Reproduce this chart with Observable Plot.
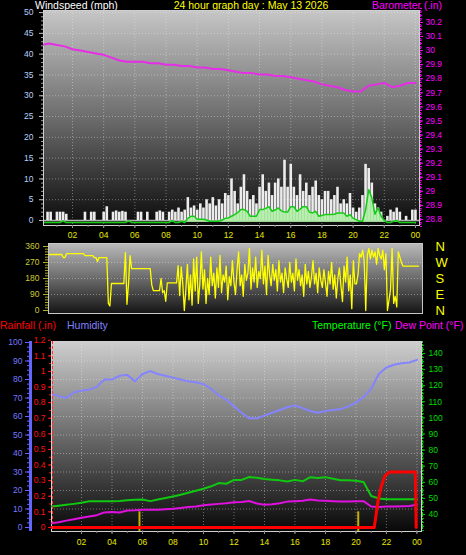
<!DOCTYPE html>
<html><head><meta charset="utf-8">
<script src="https://cdn.jsdelivr.net/npm/d3@7"></script>
<script src="https://cdn.jsdelivr.net/npm/@observablehq/plot@0.6"></script>
<style>
html,body{margin:0;padding:0;background:#000;}
#root{position:relative;width:466px;height:555px;overflow:hidden;background:#000;font-family:"Liberation Sans",Arial,sans-serif;}
.t{position:absolute;font-size:10.5px;white-space:nowrap;line-height:1;}
</style></head><body><div id="root">
<div class="t" style="left:35px;top:0px;color:#ffffff">Windspeed (mph)</div>
<div class="t" style="left:251px;top:0px;color:#ffff00;transform:translateX(-50%)">24 hour graph day : May 13 2026</div>
<div class="t" style="left:372px;top:0px;color:#ff00ff">Barometer (.in)</div>
<div class="t" style="left:0px;top:320px;color:#ff0000">Rainfall (.in)</div>
<div class="t" style="left:67px;top:320px;color:#8080ff">Humidity</div>
<div class="t" style="left:312px;top:320px;color:#00ff00">Temperature (°F)</div>
<div class="t" style="left:395px;top:320px;color:#ff00ff">Dew Point (°F)</div>
</div>
<script>
// ---------------- DATA ----------------
const hourTicks = [2,4,6,8,10,12,14,16,18,20,22,24];
const hourLabels = ["02","04","06","08","10","12","14","16","18","20","22","00"];

const windTicks = [0,5,10,15,20,25,30,35,40,45,50];
const baroTicks = [28.8,28.9,29,29.1,29.2,29.3,29.4,29.5,29.6,29.7,29.8,29.9,30,30.1,30.2];
const baroLabels = ["28.8","28.9","29","29.1","29.2","29.3","29.4","29.5","29.6","29.7","29.8","29.9","30","30.1","30.2"];
const dirTicks = [0,90,180,270,360];
const compass = ["N","E","S","W","N"];
const humTicks = [0,10,20,30,40,50,60,70,80,90,100];
const rainTicks = [0,0.1,0.2,0.3,0.4,0.5,0.6,0.7,0.8,0.9,1,1.1,1.2];
const rainLabels = ["0","0.1","0.2","0.3","0.4","0.5","0.6","0.7","0.8","0.9","1","1.1","1.2"];
const tempTicks = [40,50,60,70,80,90,100,110,120,130,140];

// barometer (inHg), every 0.5 h from 00:00
const baroStep = 0.5;
const barometer = [30.04,30.05,30.04,30.03,30.01,30.00,29.99,29.98,29.97,29.95,29.93,29.92,29.92,29.92,29.91,29.91,29.90,29.90,29.89,29.89,29.88,29.88,29.87,29.87,29.86,29.85,29.84,29.84,29.83,29.83,29.82,29.82,29.81,29.80,29.79,29.78,29.76,29.75,29.74,29.72,29.71,29.71,29.75,29.76,29.77,29.74,29.75,29.77,29.77];

// wind gust and average (mph), every 0.2 h
const windStep = 0.2;
const windGust = [0,0,2,2,0,2,2,2,1.5,0,
 0,0,0,0,2,0,2,2,0,0,
 2,3.3,0,2,2.3,2,2.2,2,0,0,
 0,2,2,0,2,0,0,2,2.3,2,
 0,2,2.5,2,3,2,2.5,5.5,3,3.5,
 2.5,4,3,5,4,5.5,3.5,5,4,6.5,
 6,10,7,4,8,11,7,5,6,4,
 8,11,7,9,6,9,10,8,14.5,8,
 13.5,8,6,11,7,9,6,8,9.5,6,
 5,7,7,5,6,8,4,5,4,6.5,
 3,2,3,6,13.5,12.5,9,4,3,2,
 0,1,2.5,2,3,2,0,1,0,2.5,
 2.5];
const windAvg = [0,0,0,0,0,0,0,0.4,0,0,
 0,0,0,0,0,0,0,0,0,0,
 0,0,0,0,0,0,0,0,0.4,0,
 0,0,0,0,0,0,0,0,0,0,
 0,0,0.5,0,0,0.3,0,1.0,1.5,1.5,
 0.8,0.8,0.8,0.6,0.3,0.3,0.3,0.3,0.6,1.0,
 1.1,1.5,1.9,2.4,3.1,3.1,2.7,1.5,1.5,1.5,
 3.1,3.1,3.4,3.8,2.7,3.0,3.5,2.8,2.5,2.5,
 3.8,3.8,2.7,3.2,3.8,3.8,2.5,2.3,2.7,1.5,
 1.7,1.9,1.9,1.9,2.0,2.3,2.3,2.3,1.5,1.9,
 1.0,0.7,0.3,0.3,3.0,7.9,6.0,2.0,3.5,1.5,
 0.5,0,0,0.3,0.5,0,0,0,0,0,
 0];

// wind direction (degrees), every 0.1 h
const dirStep = 0.1;
const windDir = [
 315,315,315,315,315,315,315,315,315,315,
 315,298,298,320,320,320,320,320,320,320,
 320,320,320,320,320,309,309,309,309,309,
 309,298,298,275,298,298,298,298,298,298,
 40,25,152,152,152,152,152,152,152,152,
 152,326,35,150,309,236,236,236,236,236,
 236,236,236,236,236,236,236,236,144,112,
 112,112,112,112,180,100,112,52,155,155,
 155,155,155,155,155,253,84,245,150,0,
 120,260,60,200,30,290,110,300,40,150,
 330,120,230,40,180,90,300,140,210,70,
 240,130,310,100,200,160,250,60,190,140,
 280,160,90,230,330,140,200,80,260,170,
 210,350,120,240,160,300,130,220,180,340,
 150,250,90,310,200,140,260,170,230,110,
 280,160,210,100,240,180,130,270,160,210,
 110,290,170,230,140,200,80,260,150,220,
 130,190,280,150,210,100,240,170,130,230,
 160,80,220,150,270,120,200,70,180,240,
 140,50,250,160,300,110,200,10,280,150,
 150,200,320,300,340,280,0,310,350,290,
 340,300,330,260,350,310,290,340,230,320,
 0,60,120,350,40,80,20,330,300,270,
 250,250,250,250,250,250,250,250,250,250,
 250];

// humidity (%), temperature and dew point (°F), every 0.5 h
const climStep = 0.5;
const humidity = [72.5,71,70,73,74,74.5,76,80,80,82,82.5,79,83,84.5,83,82,81,80,79,78.5,77.5,75,71.5,69,65.5,62,59,59,60.5,62,63.5,65,66,64.5,63,62,63,63.5,64,65.5,67.5,70.5,75,83,86.5,88,88.8,89.2,90.6];
const temperature = [45,45.5,46,46.6,47.3,48.2,48.3,48.3,48.2,48.4,48.8,49.2,49.3,48.3,49.3,50.2,51.2,52.3,53.5,54.8,56,57.5,59.5,59.1,61.5,61.5,63.3,62.8,62,61.6,61.2,60.5,61.5,60.6,63.2,62.6,63.2,62.2,61.3,61.3,61,60.2,51.5,50,49.5,49.5,49.5,49.5,49.5];
const dewPoint = [34.6,35.2,36.2,37,38,38.8,39.6,41.3,41.6,41.2,42.5,42.6,42.9,42.9,42.9,43.2,43.5,44,44.6,45,45.7,46.2,46.6,47,47.6,47.8,48.4,46.8,46,46.3,47,48,48.2,48.5,49.3,48.7,48.5,48.2,48,48.1,48.2,48.3,45,44.6,45,45,45.1,45.3,46];

// rainfall (in)
const rainHours = [0,21.2,21.45,21.65,21.9,22.2,23.9,23.95];
const rainInches = [0,0,0.17,0.26,0.33,0.355,0.355,0];

// short yellow event markers in the lower panel
const markerHours = [5.8,20.15];
const markerLevel = 0.1;

// ---------------- BUILD ----------------
const ser = (step, vals) => vals.map((v, i) => ({h: +(i * step).toFixed(3), v}));
const baroData = ser(baroStep, barometer);
const gustData = ser(windStep, windGust);
const avgData = ser(windStep, windAvg);
const dirData = ser(dirStep, windDir);
const humData = ser(climStep, humidity);
const tempData = ser(climStep, temperature);
const dewData = ser(climStep, dewPoint);
const rainData = rainHours.map((h, i) => ({h, v: rainInches[i]}));

const root = document.getElementById("root");
const FONT = "'Liberation Sans', Arial, sans-serif";
const W = 466;
const TICKFS = 8.5;
const noText = () => "";

function gradientDef(id, stops) {
  return () => {
    const ns = "http://www.w3.org/2000/svg";
    const defs = document.createElementNS(ns, "defs");
    const lg = document.createElementNS(ns, "linearGradient");
    lg.setAttribute("id", id);
    lg.setAttribute("x1", "0"); lg.setAttribute("y1", "0");
    lg.setAttribute("x2", "0"); lg.setAttribute("y2", "1");
    for (const [o, c] of stops) {
      const s = document.createElementNS(ns, "stop");
      s.setAttribute("offset", o); s.setAttribute("stop-color", c);
      lg.appendChild(s);
    }
    defs.appendChild(lg);
    return defs;
  };
}

function base(p, xDom, yDom, marks) {
  return Plot.plot({
    width: W, height: p.height,
    marginLeft: p.ml, marginRight: p.mr, marginTop: p.mt, marginBottom: p.mb,
    x: {domain: xDom, axis: null, label: null},
    y: {domain: yDom, axis: null, label: null},
    style: {background: "transparent", color: "#cccccc", fontFamily: FONT, fontSize: TICKFS + "px", overflow: "visible"},
    marks
  });
}
function place(svg, top) {
  svg.style.position = "absolute";
  svg.style.left = "0px";
  svg.style.top = top + "px";
  svg.style.maxWidth = "none";
  root.appendChild(svg);
}
const hourFmt = d => hourLabels[hourTicks.indexOf(d)];
const hourMinor = d3.range(1, 25, 1);
const gridStyle = {stroke: "#f0f0f0", strokeOpacity: 0.4, strokeDasharray: "1,2"};

// ---- Panel 1: wind speed + barometer ----
const p1 = {top: 0, height: 245, ml: 43, mr: 47, mt: 10, mb: 20};
const xDom1 = [0.14, 24.26];
const windDom = [-1.2, 50.5];
const baroDom = [28.757, 30.285];

place(base(p1, xDom1, windDom, [
  gradientDef("g1", [[0, "#c6c6c6"], [0.5, "#6c6c6c"], [1, "#0a0a0a"]]),
  Plot.frame({fill: "url(#g1)"}),
  Plot.gridY({ticks: windTicks, ...gridStyle}),
  Plot.gridX({ticks: hourTicks, ...gridStyle}),
  Plot.ruleY([0], {stroke: "#b4b4b4", strokeWidth: 1.5}),
  Plot.ruleX(gustData, {x: "h", y1: 0, y2: "v", stroke: "#ececec", strokeWidth: 2.6, clip: true}),
  Plot.areaY(avgData, {x: "h", y: "v", fill: "#aef0a4", fillOpacity: 0.85, dy: 2, clip: true}),
  Plot.lineY(avgData, {x: "h", y: "v", stroke: "#14cc14", strokeWidth: 1.5, dy: 2, clip: true}),
  Plot.frame({stroke: "#d0d0d0"}),
  Plot.axisY({anchor: "left", ticks: windTicks, tickSize: 4, tickPadding: 6, fill: "#b8d0f8", stroke: "#c0c0c0", label: null, fontSize: TICKFS}),
  Plot.axisY({anchor: "left", ticks: d3.range(0, 51, 1), tickSize: 2, tickFormat: noText, stroke: "#a0a0a0", label: null}),
  Plot.axisX({anchor: "bottom", ticks: hourTicks, tickSize: 3, tickPadding: 3, tickFormat: hourFmt, fill: "#e8e800", stroke: "#a0a0a0", label: null, fontSize: TICKFS}),
  Plot.axisX({anchor: "bottom", ticks: hourMinor, tickSize: 2, tickFormat: noText, stroke: "#888888", label: null})
]), p1.top);

place(base(p1, xDom1, baroDom, [
  Plot.lineY(baroData, {x: "h", y: "v", stroke: "#e62ee6", strokeWidth: 2, clip: true}),
  Plot.ruleX([xDom1[1]], {dx: 1, stroke: "#ff00ff", strokeDasharray: "1,1"}),
  Plot.axisY({anchor: "right", ticks: baroTicks, tickSize: 3, tickPadding: 3, tickFormat: d => baroLabels[baroTicks.indexOf(d)], fill: "#ff00ff", stroke: "#ff00ff", label: null, fontSize: TICKFS}),
  Plot.axisY({anchor: "right", ticks: d3.range(28.75, 30.3, 0.025), tickSize: 2, tickFormat: noText, stroke: "#ff00ff", label: null})
]), p1.top);

// ---- Panel 2: wind direction ----
const p2 = {top: 238, height: 80, ml: 48, mr: 44, mt: 5, mb: 5};
const xDom2 = [0.14, 24.26];
const dirDom = [-17, 377];
place(base(p2, xDom2, dirDom, [
  gradientDef("g2", [[0, "#bababa"], [0.5, "#6a6a6a"], [1, "#141414"]]),
  Plot.frame({fill: "url(#g2)"}),
  Plot.gridY({ticks: [90, 180, 270], ...gridStyle}),
  Plot.lineY(dirData, {x: "h", y: "v", stroke: "#ffff00", strokeWidth: 1.3, clip: true}),
  Plot.frame({stroke: "#c8c8c8"}),
  Plot.axisY({anchor: "left", ticks: dirTicks, tickSize: 5, tickPadding: 4, fill: "#cccc33", stroke: "#b8b830", label: null, fontSize: TICKFS}),
  Plot.axisY({anchor: "left", ticks: d3.range(0, 361, 15), tickSize: 3, tickFormat: noText, stroke: "#a8a828", label: null}),
  Plot.axisY({anchor: "right", ticks: dirTicks, tickSize: 0, tickPadding: 13, tickFormat: d => compass[dirTicks.indexOf(d)], fill: "#ffff00", label: null, fontSize: 13})
]), p2.top);

// ---- Panel 3: humidity, temperature, dew point, rainfall ----
const p3 = {top: 335, height: 220, ml: 51, mr: 45, mt: 6, mb: 24};
const xDom3 = [0.03, 24.3];
const humDom = [-2.16, 100.54];
const tempDom = [29.44, 147.45];
const rainDom = [-0.026, 1.192];

place(base(p3, xDom3, humDom, [
  gradientDef("g3", [[0, "#cecece"], [0.5, "#6a6a6a"], [1, "#080808"]]),
  Plot.frame({fill: "url(#g3)"}),
  Plot.gridY({ticks: humTicks.slice(1, -1), ...gridStyle}),
  Plot.gridX({ticks: hourTicks, ...gridStyle}),
  Plot.lineY(humData, {x: "h", y: "v", stroke: "#8484ff", strokeWidth: 2, clip: true}),
  Plot.frame({stroke: "#d0d0d0"}),
  Plot.ruleX([xDom3[0]], {dx: -21, stroke: "#6464ff", strokeWidth: 3}),
  Plot.axisY({anchor: "left", dx: -22, ticks: humTicks, tickSize: 4, tickPadding: 3, fill: "#7878ff", stroke: "#6464ff", label: null, fontSize: TICKFS}),
  Plot.axisY({anchor: "left", dx: -22, ticks: d3.range(0, 101, 2.5), tickSize: 2, tickFormat: noText, stroke: "#6464ff", label: null}),
  Plot.axisX({anchor: "bottom", ticks: hourTicks, tickSize: 3, tickPadding: 4, tickFormat: hourFmt, fill: "#e8e800", stroke: "#a0a0a0", label: null, fontSize: TICKFS}),
  Plot.axisX({anchor: "bottom", ticks: hourMinor, tickSize: 2, tickFormat: noText, stroke: "#888888", label: null})
]), p3.top);

place(base(p3, xDom3, tempDom, [
  Plot.lineY(tempData, {x: "h", y: "v", stroke: "#10c810", strokeWidth: 2, clip: true}),
  Plot.lineY(dewData, {x: "h", y: "v", stroke: "#e010e0", strokeWidth: 2, clip: true}),
  Plot.ruleX([xDom3[1]], {dx: 1, stroke: "#00dd00", strokeDasharray: "2,1"}),
  Plot.axisY({anchor: "right", ticks: tempTicks, tickSize: 3, tickPadding: 4, fill: "#00dd00", stroke: "#00dd00", label: null, fontSize: TICKFS}),
  Plot.axisY({anchor: "right", ticks: d3.range(30, 146, 2.5), tickSize: 2, tickFormat: noText, stroke: "#00cc00", label: null})
]), p3.top);

place(base(p3, xDom3, rainDom, [
  Plot.ruleX(markerHours, {y1: rainDom[0], y2: markerLevel, stroke: "#c8b000", strokeWidth: 2}),
  Plot.lineY(rainData, {x: "h", y: "v", stroke: "#ff0000", strokeWidth: 3, clip: true}),
  Plot.ruleX([xDom3[0]], {dx: 1, stroke: "#ff3030", strokeDasharray: "3,2"}),
  Plot.axisY({anchor: "left", ticks: rainTicks, tickSize: 3, tickPadding: 3, tickFormat: d => rainLabels[rainTicks.indexOf(d)], fill: "#ff1010", stroke: "#ff1010", label: null, fontSize: TICKFS}),
  Plot.axisY({anchor: "left", ticks: d3.range(0, 1.19, 0.05), tickSize: 2, tickFormat: noText, stroke: "#ff1010", label: null})
]), p3.top);
</script></body></html>
